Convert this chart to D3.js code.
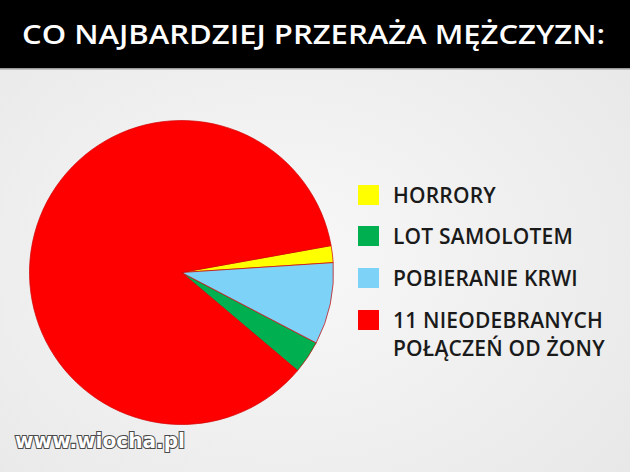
<!DOCTYPE html>
<html>
<head>
<meta charset="utf-8">
<script src="https://cdn.jsdelivr.net/npm/d3@7"></script>
<style>
  body { margin: 0; background: #eeeeee; }
  svg { display: block; }
</style>
</head>
<body>
<svg width="630" height="472"></svg>
<script>
// values (share of the pie, in %)
var categories = ["HORRORY", "LOT SAMOLOTEM", "POBIERANIE KRWI", "11 NIEODEBRANYCH POŁĄCZEŃ OD ŻONY"];
var labelLines = [["HORRORY"], ["LOT SAMOLOTEM"], ["POBIERANIE KRWI"], ["11 NIEODEBRANYCH", "POŁĄCZEŃ OD ŻONY"]];
var values = [1.8, 3.5, 8.7, 86.0];
var colors = ["#ffff00", "#00b050", "#7dd3f7", "#ff0000"];
// slices go clockwise: horrory, krew, samolot, telefony
var pieOrder = [0, 2, 1, 3];
var title = "CO NAJBARDZIEJ PRZERAŻA MĘŻCZYZN:";
var watermark = "www.wiocha.pl";

var svg = d3.select("svg"),
    width = 630,
    height = 472,
    radius = 152;

var defs = svg.append("defs");
var grad = defs.append("radialGradient").attr("id", "bg").attr("cx", "45%").attr("cy", "55%").attr("r", "70%");
grad.append("stop").attr("offset", "0%").attr("stop-color", "#f8f8f8");
grad.append("stop").attr("offset", "100%").attr("stop-color", "#e8e8e8");

svg.append("rect").attr("width", width).attr("height", height).attr("fill", "url(#bg)");

// header bar
svg.append("rect").attr("width", width).attr("height", 68).attr("fill", "#000");
svg.append("rect").attr("y", 68).attr("width", width).attr("height", 1.5).attr("fill", "#9a9a9a");
svg.append("text")
    .attr("x", 22).attr("y", 44)
    .attr("textLength", 583).attr("lengthAdjust", "spacingAndGlyphs")
    .attr("fill", "#fff")
    .style("font-family", "'Open Sans', sans-serif")
    .style("font-weight", 600)
    .style("font-size", "27px")
    .text(title);

// pie
var rows = categories.map(function(c, i) { return {name: c, value: values[i], color: colors[i], idx: i}; });

var pie = d3.pie()
    .value(function(d) { return d.value; })
    .sort(function(a, b) { return pieOrder.indexOf(a.idx) - pieOrder.indexOf(b.idx); })
    .startAngle(79.8 * Math.PI / 180)
    .endAngle(79.8 * Math.PI / 180 + 2 * Math.PI);

var arc = d3.arc().innerRadius(0).outerRadius(radius);

var g = svg.append("g").attr("transform", "translate(181.5,272.5)");
g.selectAll("path").data(pie(rows)).enter().append("path")
    .attr("d", arc)
    .attr("fill", function(d) { return d.data.color; })
    .attr("stroke", "#d00000")
    .attr("stroke-width", 0.7);

// legend
var rowY = [195, 236, 278, 320];
var legend = svg.append("g");
var item = legend.selectAll("g").data(rows).enter().append("g")
    .attr("transform", function(d, i) { return "translate(358," + rowY[i] + ")"; });

item.append("rect")
    .attr("x", 0).attr("y", -10)
    .attr("width", 21).attr("height", 20)
    .attr("fill", function(d) { return d.color; });

item.each(function(d, i) {
  var t = d3.select(this).append("text")
      .attr("fill", "#1a1a1a")
      .style("font-family", "'Open Sans', sans-serif")
      .style("font-weight", 600)
      .style("font-size", "21px")
      .style("letter-spacing", "0.2px");
  labelLines[i].forEach(function(line, j) {
    t.append("tspan").attr("x", 35).attr("y", 8 + j * 28).text(line);
  });
});

// watermark
svg.append("text")
    .attr("x", 15).attr("y", 448)
    .attr("textLength", 170).attr("lengthAdjust", "spacingAndGlyphs")
    .attr("fill", "#fff")
    .attr("stroke", "#4a4a4a")
    .attr("stroke-width", 2.2)
    .attr("paint-order", "stroke")
    .style("font-family", "'DejaVu Sans', sans-serif")
    .style("font-weight", "bold")
    .style("font-size", "21px")
    .text(watermark);
</script>
</body>
</html>
